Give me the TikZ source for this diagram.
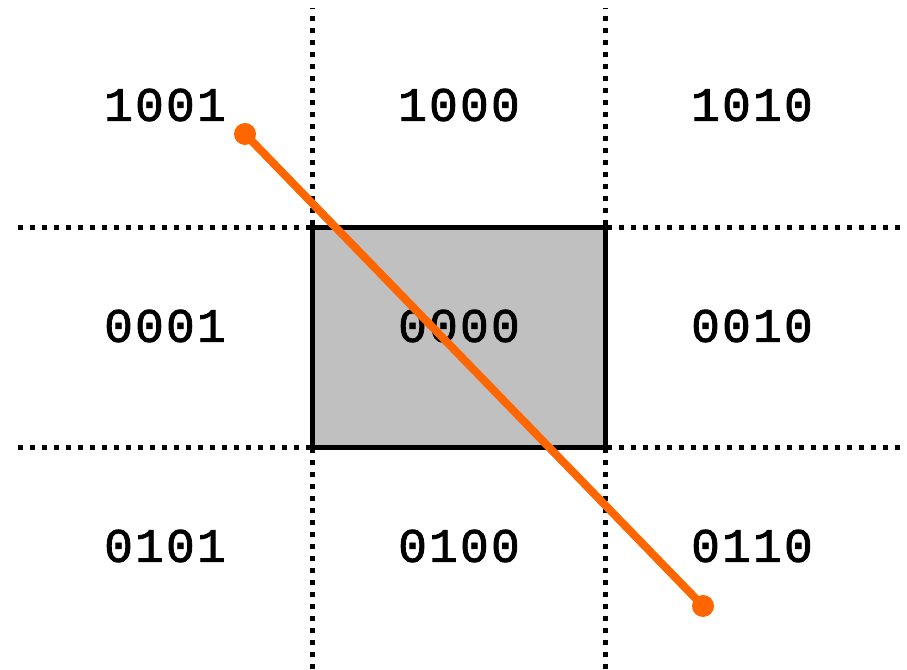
\documentclass[tikz,border=0pt]{standalone}
\usepackage{fontspec}
\newfontfamily\codefont[LetterSpace=4.5,FakeBold=1.6]{Liberation Mono}
\usepackage{tikz}
\usetikzlibrary{positioning}
\definecolor{clipgray}{RGB}{192,192,192}
\definecolor{segorange}{RGB}{255,102,0}

\begin{document}
\begin{tikzpicture}[
    x=1pt, y=1pt,
    gridline/.style={line width=5pt, dash pattern=on 5pt off 7pt},
    code/.style={font=\codefont\fontsize{48}{50}\selectfont},
    endpt/.style={circle, fill=segorange, inner sep=0pt, minimum size=22pt},
]
    \useasboundingbox (0,0) rectangle (907,669);

    % clip window
    \draw[line width=5pt, fill=clipgray] (312,221) rectangle (605,441);

    % extended window edges
    \draw[gridline] (312,0) -- (312,661);
    \draw[gridline] (605,0) -- (605,661);
    \draw[gridline] (18,441) -- (310,441);
    \draw[gridline] (607,441) -- (900,441);
    \draw[gridline] (18,221) -- (310,221);
    \draw[gridline] (607,221) -- (900,221);

    % region codes
    \node[code] (tl) at (165,564) {1001};
    \node[code] (tc) at (459,564) {1000};
    \node[code] (tr) at (752,564) {1010};
    \node[code] (ml) at (165,343) {0001};
    \node[code] (mc) at (459,343) {0000};
    \node[code] (mr) at (752,343) {0010};
    \node[code] (bl) at (165,123) {0101};
    \node[code] (bc) at (459,123) {0100};
    \node[code] (br) at (752,123) {0110};

    % line segment
    \node[endpt] (p1) at (245,535) {};
    \node[endpt] (p2) at (703,63) {};
    \draw[segorange, line width=8pt] (p1.center) -- (p2.center);
\end{tikzpicture}
\end{document}
